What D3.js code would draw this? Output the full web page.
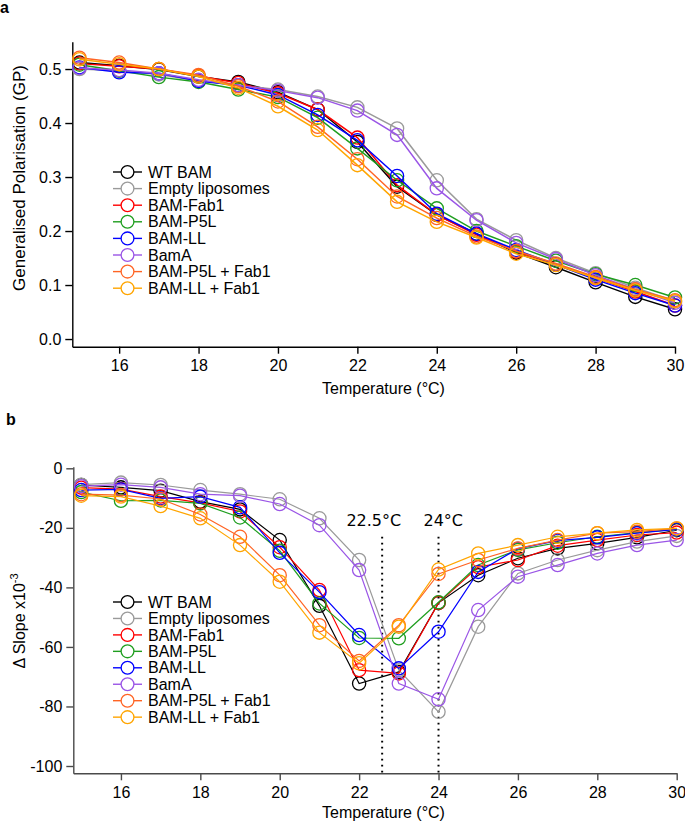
<!DOCTYPE html>
<html>
<head>
<meta charset="utf-8">
<script src="https://cdn.jsdelivr.net/npm/d3@7"></script>
<style>
  html, body { margin: 0; padding: 0; background: #fff; }
  svg { display: block; font-family: "Liberation Sans", Arial, Helvetica, sans-serif; }
</style>
</head>
<body>
<svg id="chart" width="685" height="822"></svg>
<script>
// ---------- DATA ----------
const temperatures = [15,16,17,18,19,20,21,22,23,24,25,26,27,28,29,30];
const seriesNames = ["WT BAM","Empty liposomes","BAM-Fab1","BAM-P5L","BAM-LL","BamA","BAM-P5L + Fab1","BAM-LL + Fab1"];
const seriesColors = ["#000000","#9a9a9a","#ff0000","#1f9e1f","#0000ff","#9a55e6","#ff6424","#ffa500"];

// Panel a: Generalised Polarisation (GP)
const gpWT     = [0.512,0.506,0.499,0.486,0.476,0.457,0.425,0.365,0.282,0.230,0.195,0.160,0.133,0.105,0.078,0.055];
const gpEmpty  = [0.500,0.497,0.490,0.478,0.470,0.462,0.449,0.429,0.390,0.294,0.222,0.183,0.150,0.122,0.095,0.070];
const gpFab1   = [0.510,0.505,0.500,0.487,0.474,0.455,0.425,0.373,0.285,0.230,0.193,0.162,0.138,0.113,0.088,0.062];
const gpP5L    = [0.508,0.497,0.485,0.476,0.462,0.448,0.410,0.353,0.294,0.242,0.200,0.172,0.145,0.120,0.100,0.077];
const gpLL     = [0.503,0.494,0.492,0.478,0.470,0.452,0.415,0.368,0.302,0.232,0.195,0.165,0.138,0.110,0.085,0.062];
const gpBamA   = [0.502,0.498,0.492,0.480,0.470,0.460,0.447,0.423,0.378,0.279,0.220,0.178,0.148,0.118,0.092,0.067];
const gpP5LFab = [0.521,0.512,0.500,0.489,0.468,0.440,0.393,0.333,0.264,0.224,0.190,0.163,0.140,0.115,0.092,0.072];
const gpLLFab  = [0.518,0.509,0.500,0.486,0.465,0.431,0.387,0.322,0.254,0.217,0.188,0.158,0.137,0.113,0.090,0.070];

// Panel b: Delta slope x10^-3
const dsWT     = [-5.6,-6.4,-7.5,-11.2,-13.8,-24.1,-46.2,-72.3,-68.4,-45.2,-35.9,-30.2,-26.9,-25.2,-23.2,-20.8];
const dsEmpty  = [-5.5,-4.8,-5.6,-7.3,-8.7,-10.4,-16.8,-30.8,-67.8,-81.8,-53.2,-35.3,-30.8,-27.5,-24.6,-22.7];
const dsFab1   = [-6.5,-7.0,-9.5,-11.6,-14.5,-26.5,-40.9,-67.8,-68.9,-45.2,-33.2,-30.8,-26.0,-24.1,-22.4,-21.6];
const dsP5L    = [-8.0,-10.9,-10.8,-11.8,-16.5,-27.7,-45.4,-57.0,-57.1,-45.0,-32.5,-27.4,-25.0,-23.0,-21.6,-20.5];
const dsLL     = [-7.3,-7.1,-10.1,-9.5,-13.1,-28.4,-41.6,-56.0,-67.2,-54.9,-34.8,-27.0,-24.3,-23.2,-21.8,-20.5];
const dsBamA   = [-6.0,-5.5,-6.4,-8.7,-9.2,-12.0,-19.1,-34.2,-72.3,-77.6,-47.6,-36.4,-32.5,-28.6,-25.8,-24.1];
const dsP5LFab = [-8.7,-9.0,-10.3,-15.5,-23.0,-35.9,-52.7,-64.7,-52.7,-35.5,-30.8,-26.9,-24.1,-21.8,-21.3,-20.2];
const dsLLFab  = [-9.2,-9.5,-12.7,-16.8,-25.8,-38.1,-55.2,-65.5,-53.2,-34.0,-28.6,-25.8,-23.0,-21.8,-20.7,-20.2];

const xTicks = [16,18,20,22,24,26,28,30];
const gpTicks = [0.0,0.1,0.2,0.3,0.4,0.5];
const dsTicks = [0,-20,-40,-60,-80,-100];

// transition markers (panel b)
const markerTemps  = [22.58, 24];
const markerLabels = ["22.5°C", "24°C"];
const markerLabelTemps = [22.37, 24.12];
const markerTop = -23;
const markerLabelValue = -17.3;

const gpSeries = [gpWT,gpEmpty,gpFab1,gpP5L,gpLL,gpBamA,gpP5LFab,gpLLFab];
const dsSeries = [dsWT,dsEmpty,dsFab1,dsP5L,dsLL,dsBamA,dsP5LFab,dsLLFab];

// ---------- DRAW ----------
const svg = d3.select("#chart");

function panel(opts) {
  const g = svg.append("g");
  const x = d3.scaleLinear().domain(opts.xDomain).range(opts.xRange);
  const y = d3.scaleLinear().domain(opts.yDomain).range(opts.yRange);

  // axes
  const xAxis = g.append("g")
    .attr("transform", `translate(0,${opts.yRange[0]})`)
    .call(d3.axisBottom(x).tickValues(xTicks).tickSize(7).tickSizeOuter(0).tickPadding(opts.xPad).tickFormat(d3.format("d")));
  const yAxis = g.append("g")
    .attr("transform", `translate(${opts.xRange[0]},0)`)
    .call(d3.axisLeft(y).tickValues(opts.yTicks).tickSize(7).tickSizeOuter(0).tickPadding(4).tickFormat(opts.yFormat));
  [xAxis, yAxis].forEach(a => {
    a.selectAll("path,line").attr("stroke", opts.axisColor).attr("stroke-width", 1.4);
    a.selectAll("text").attr("font-size", 16).attr("fill", "#000")
      .attr("font-family", '"Liberation Sans", Arial, sans-serif');
  });

  // extra (markers) below data
  if (opts.extra) opts.extra(g, x, y);

  // series
  const line = d3.line().x((d, i) => x(temperatures[i])).y(d => y(d));
  opts.series.forEach((vals, si) => {
    const sg = g.append("g");
    sg.append("path").datum(vals).attr("d", line)
      .attr("fill", "none").attr("stroke", seriesColors[si]).attr("stroke-width", opts.lineW);
    sg.selectAll("circle").data(vals).join("circle")
      .attr("cx", (d, i) => x(temperatures[i])).attr("cy", d => y(d)).attr("r", 6.6)
      .attr("fill", "none").attr("stroke", seriesColors[si]).attr("stroke-width", 1.3);
  });

  // legend
  const lg = g.append("g");
  seriesNames.forEach((name, i) => {
    const yy = opts.legendY + i * opts.legendStep;
    lg.append("line").attr("x1", 113).attr("x2", 142).attr("y1", yy).attr("y2", yy)
      .attr("stroke", seriesColors[i]).attr("stroke-width", 1.4);
    lg.append("circle").attr("cx", 127.5).attr("cy", yy).attr("r", 6.4)
      .attr("fill", "#fff").attr("stroke", seriesColors[i]).attr("stroke-width", 1.3);
    lg.append("text").attr("x", 148).attr("y", yy).attr("dy", "0.35em")
      .attr("font-size", 16).text(name);
  });

  // x title
  g.append("text").attr("x", 383.5).attr("y", opts.xTitleY).attr("text-anchor", "middle")
    .attr("font-size", 16).text("Temperature (°C)");

  // panel letter
  g.append("text").attr("x", opts.letterX).attr("y", opts.letterY).attr("font-weight", "bold")
    .attr("font-size", 16).text(opts.letter);
  return g;
}

// Panel a
const ga = panel({
  xDomain: [14.82, 30], xRange: [72.3, 675],
  yDomain: [-0.0142, 0.5506], yRange: [346.7, 41.7],
  yTicks: gpTicks, yFormat: d3.format(".1f"),
  xPad: 6, axisColor: "#000", lineW: 1.5,
  series: gpSeries,
  legendY: 172, legendStep: 16.6,
  xTitleY: 393.5, letter: "a", letterX: 0, letterY: 13
});
ga.append("text").attr("transform", "translate(25,178) rotate(-90)").attr("text-anchor", "middle")
  .attr("font-size", 17).text("Generalised Polarisation (GP)");

// Panel b
const gb = panel({
  xDomain: [14.8, 30], xRange: [73.3, 676.7],
  yDomain: [-102.45, 0.54], yRange: [773.3, 466.7],
  yTicks: dsTicks, yFormat: d => String(d),
  xPad: 6, axisColor: "#4a4a4a", lineW: 1.2,
  series: dsSeries,
  legendY: 602, legendStep: 16.45,
  xTitleY: 818, letter: "b", letterX: 6, letterY: 425,
  extra: (g, x, y) => {
    markerTemps.forEach((t, i) => {
      g.append("line").attr("x1", x(t)).attr("x2", x(t))
        .attr("y1", y(markerTop)).attr("y2", y(-102.45))
        .attr("stroke", "#000").attr("stroke-width", 2).attr("stroke-dasharray", "1.8,4.2");
      g.append("text").attr("x", x(markerLabelTemps[i])).attr("y", y(markerLabelValue))
        .attr("dy", "0.36em").attr("text-anchor", "middle")
        .attr("font-family", '"DejaVu Sans", sans-serif').attr("font-size", 16)
        .text(markerLabels[i]);
    });
  }
});
const yt = gb.append("text").attr("transform", "translate(25,621) rotate(-90)").attr("text-anchor", "middle")
  .attr("font-size", 16);
yt.append("tspan").text("Δ Slope x10");
yt.append("tspan").attr("dy", -7).attr("font-size", 11).text("-3");
</script>
</body>
</html>
